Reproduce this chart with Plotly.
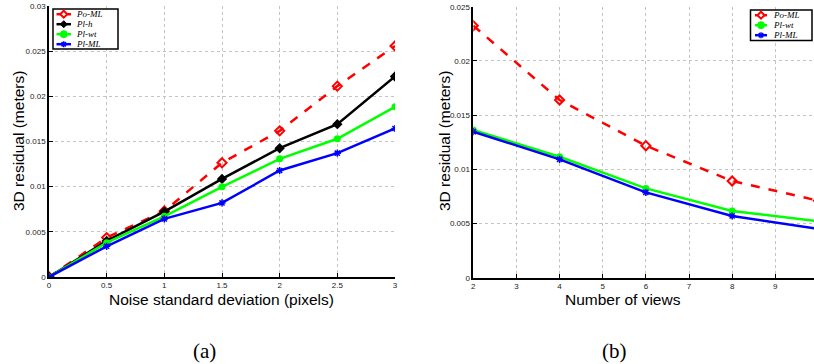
import plotly.graph_objects as go

# ---- data ----
noise_x = [0, 0.5, 1, 1.5, 2, 2.5, 3]
a_po_ml = [0.0, 0.00436, 0.0073, 0.01264, 0.01618, 0.02113, 0.02557]
a_pl_h = [0.0, 0.00399, 0.00724, 0.01086, 0.01426, 0.01692, 0.0222]
a_pl_wt = [0.0, 0.0038, 0.00672, 0.00998, 0.01308, 0.0153, 0.01884]
a_pl_ml = [0.0, 0.0034, 0.00643, 0.0082, 0.01179, 0.01371, 0.01644]

views_x = [2, 4, 6, 8, 10]
b_po_ml = [0.02325, 0.01639, 0.01218, 0.00892, 0.0071]
b_pl_wt = [0.01362, 0.01116, 0.00824, 0.00615, 0.0052]
b_pl_ml = [0.01347, 0.01092, 0.00787, 0.00569, 0.0045]

a_xticks = [0, 0.5, 1, 1.5, 2, 2.5, 3]
a_yticks = [0, 0.005, 0.01, 0.015, 0.02, 0.025, 0.03]
b_xticks = [2, 3, 4, 5, 6, 7, 8, 9]
b_yticks = [0, 0.005, 0.01, 0.015, 0.02, 0.025]

W, H = 814, 364
RED, BLACK, GREEN, BLUE = "#ff0000", "#000000", "#00ff00", "#0000ff"

fig = go.Figure()

def add(x, y, color, dash, symbol, msize, xa, ya, mline=0):
    fig.add_trace(go.Scatter(
        x=x, y=y, mode="lines+markers", showlegend=False,
        line=dict(color=color, width=2.5, dash=dash),
        marker=dict(symbol=symbol, size=msize, color=color,
                    line=dict(color=color, width=mline)),
        xaxis=xa, yaxis=ya))

add(noise_x, a_po_ml, RED, "dash", "diamond-open", 7, "x", "y", 2)
add(noise_x, a_pl_h, BLACK, "solid", "diamond", 8, "x", "y")
add(noise_x, a_pl_wt, GREEN, "solid", "circle", 7, "x", "y")
add(noise_x, a_pl_ml, BLUE, "solid", "asterisk-open", 6, "x", "y", 1.5)

add(views_x, b_po_ml, RED, "dash", "diamond-open", 7, "x2", "y2", 2)
add(views_x, b_pl_wt, GREEN, "solid", "circle", 7, "x2", "y2")
add(views_x, b_pl_ml, BLUE, "solid", "asterisk-open", 6, "x2", "y2", 1.5)

def px(x):
    return x / W

def py(y):
    return 1 - y / H

axis_common = dict(
    showline=True, linecolor="black", linewidth=1.5, automargin=False,
    ticks="inside", ticklen=4, tickcolor="black",
    showgrid=True, gridcolor="#c4c4c4", griddash="dot", gridwidth=1,
    zeroline=False, tickfont=dict(family="Liberation Sans", size=8, color="#222222"),
)

fig.update_layout(
    template="none",
    width=W, height=H, margin=dict(l=0, r=0, t=0, b=0),
    paper_bgcolor="white", plot_bgcolor="rgba(0,0,0,0)",
    showlegend=False,
    xaxis=dict(domain=[px(49), px(395)], range=[0, 3], tickvals=a_xticks,
               ticktext=["0", "0.5", "1", "1.5", "2", "2.5", "3"], anchor="y", **axis_common),
    yaxis=dict(domain=[py(277), py(6)], range=[0, 0.03], tickvals=a_yticks,
               ticktext=["0", "0.005", "0.01", "0.015", "0.02", "0.025", "0.03"], anchor="x", **axis_common),
    xaxis2=dict(domain=[px(473.3), 1.0], range=[2, 2 + (814 - 473.3) / 43.14], tickvals=b_xticks,
                ticktext=[str(v) for v in b_xticks], anchor="y2", **axis_common),
    yaxis2=dict(domain=[py(277.7), py(6.7)], range=[0, 0.025], tickvals=b_yticks,
                ticktext=["0", "0.005", "0.01", "0.015", "0.02", "0.025"], anchor="x2", **axis_common),
)

# ---- compact MATLAB-style legends (drawn in pixel space) ----
shapes = []
anns = []

def rect(x0, y0, x1, y1):
    shapes.append(dict(type="rect", xref="paper", yref="paper",
                       x0=px(x0), x1=px(x1), y0=py(y1), y1=py(y0),
                       fillcolor="white", line=dict(color="black", width=1.5), layer="above"))

def seg(x0, y0, x1, y1, color, width):
    shapes.append(dict(type="line", xref="paper", yref="paper",
                       x0=px(x0), x1=px(x1), y0=py(y0), y1=py(y1),
                       line=dict(color=color, width=width), layer="above"))

def marker(kind, cx, cy, color):
    r = 3.5
    if kind in ("diamond", "diamond-open"):
        path = "M {} {} L {} {} L {} {} L {} {} Z".format(
            px(cx), py(cy - r), px(cx + r), py(cy), px(cx), py(cy + r), px(cx - r), py(cy))
        shapes.append(dict(type="path", xref="paper", yref="paper", path=path,
                           fillcolor="white" if kind == "diamond-open" else color,
                           line=dict(color=color, width=2 if kind == "diamond-open" else 1),
                           layer="above"))
    elif kind == "circle":
        shapes.append(dict(type="circle", xref="paper", yref="paper",
                           x0=px(cx - r), x1=px(cx + r), y0=py(cy + r), y1=py(cy - r),
                           fillcolor=color, line=dict(color=color, width=1), layer="above"))
    elif kind == "asterisk":
        rr = 3
        seg(cx - rr, cy, cx + rr, cy, color, 1.5)
        seg(cx, cy - rr, cx, cy + rr, color, 1.5)
        seg(cx - 2.2, cy - 2.2, cx + 2.2, cy + 2.2, color, 1.5)
        seg(cx - 2.2, cy + 2.2, cx + 2.2, cy - 2.2, color, 1.5)

def legend(box, entries, lx0, lx1, tx, ys):
    rect(*box)
    for (name, color, kind), y in zip(entries, ys):
        seg(lx0, y, lx1, y, color, 2.5)
        marker(kind, (lx0 + lx1) / 2, y, color)
        anns.append(dict(text="<i>" + name + "</i>", x=px(tx), y=py(y),
                         xanchor="left", yanchor="middle", borderpad=0,
                         font=dict(family="Liberation Serif", size=9, color="black")))

legend_a = [("Po-ML", RED, "diamond-open"), ("Pl-h", BLACK, "diamond"),
            ("Pl-wt", GREEN, "circle"), ("Pl-ML", BLUE, "asterisk")]
legend_b = [("Po-ML", RED, "diamond-open"), ("Pl-wt", GREEN, "circle"),
            ("Pl-ML", BLUE, "asterisk")]

legend((53, 9, 118, 49), legend_a, 56.5, 71, 74.5, [14.2, 24.2, 34.2, 44.2])
legend((750.5, 10, 812, 40.5), legend_b, 755, 767, 771.5, [15.2, 25.2, 35.2])

title_font = dict(family="Liberation Sans", size=15.5, color="black")
anns += [
    dict(text="Noise standard deviation (pixels)", x=px(222), y=py(299), font=title_font),
    dict(text="Number of views", x=px(623), y=py(299), font=title_font),
    dict(text="3D residual (meters)", x=px(19), y=py(141), font=title_font, textangle=-90),
    dict(text="3D residual (meters)", x=px(445), y=py(141), font=title_font, textangle=-90),
    dict(text="(a)", x=px(204), y=py(351), font=dict(family="Liberation Serif", size=21, color="black")),
    dict(text="(b)", x=px(614), y=py(351), font=dict(family="Liberation Serif", size=21, color="black")),
]
for a in anns:
    a.setdefault("xanchor", "center")
    a.setdefault("yanchor", "middle")
    fig.add_annotation(xref="paper", yref="paper", showarrow=False, **a)

fig.update_layout(shapes=shapes)
fig.write_html("out.html", config={"displayModeBar": False})

# remove the browser's default page margin so the figure sits at (0, 0)
with open("out.html", "r", encoding="utf-8") as f:
    html = f.read()
html = html.replace("<head>", "<head><style>html,body{margin:0;padding:0;overflow:hidden;}</style>", 1)
with open("out.html", "w", encoding="utf-8") as f:
    f.write(html)
